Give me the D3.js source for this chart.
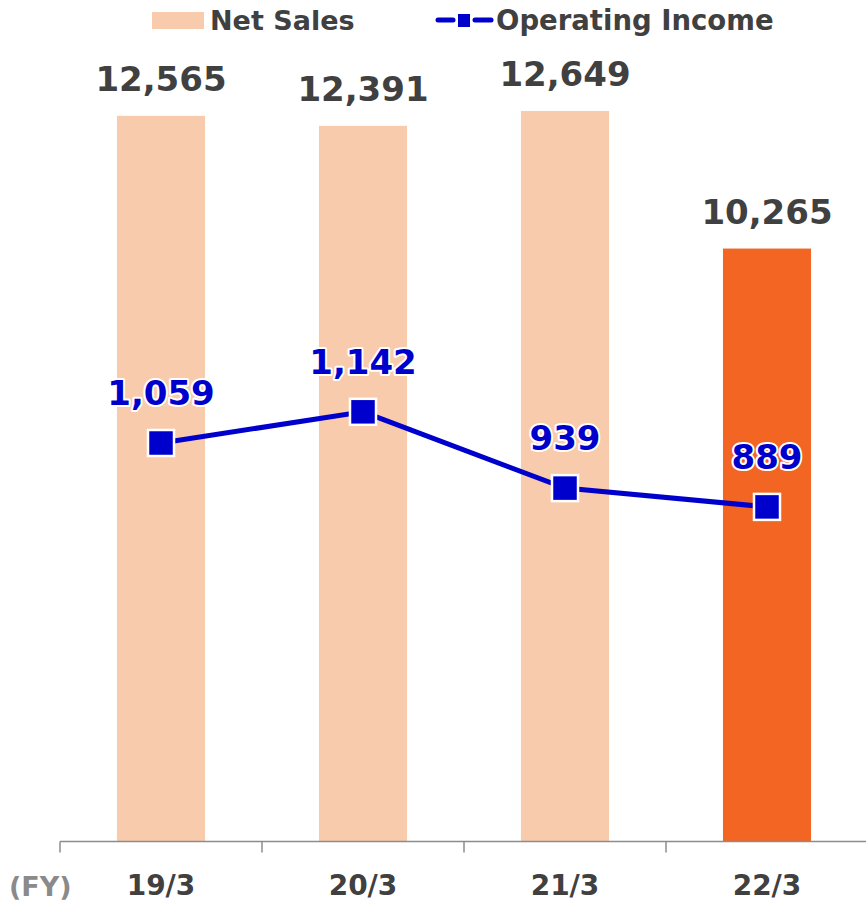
<!DOCTYPE html>
<html><head><meta charset="utf-8">
<script src="https://cdn.jsdelivr.net/npm/d3@7"></script>
<style>
html,body{margin:0;padding:0;background:#fff;}
svg{display:block;font-family:"DejaVu Sans",Verdana,sans-serif;font-weight:bold;}
</style></head>
<body>
<script>
const categories = ["19/3", "20/3", "21/3", "22/3"];
const netSales = [12565, 12391, 12649, 10265];
const operatingIncome = [1059, 1142, 939, 889];
const highlightIndex = 3;

const W = 866, H = 904;
const svg = d3.select("body").append("svg").attr("width", W).attr("height", H);

const plotLeft = 60, plotRight = 868, plotBase = 841, plotTop = 33;
const x = d3.scaleBand().domain(categories).range([plotLeft, plotRight]).paddingInner(0.564).paddingOuter(0.282);
const xo = d3.scaleBand().domain(categories).range([plotLeft, plotRight]).padding(0);
const y = d3.scaleLinear().domain([0, 14000]).range([plotBase, plotTop]);
const y2 = d3.scaleLinear().domain([0, 2150]).range([plotBase, plotTop]);
const fmt = d3.format(",");

// bars
svg.selectAll("rect.bar").data(netSales).join("rect")
  .attr("class", "bar")
  .attr("x", (d, i) => x(categories[i]))
  .attr("y", d => y(d))
  .attr("width", x.bandwidth())
  .attr("height", d => y(0) - y(d))
  .attr("fill", (d, i) => i === highlightIndex ? "#F26522" : "#F8CBAD");

// axis
const axis = svg.append("g").attr("transform", `translate(0,${plotBase + 0.5})`);
axis.append("line").attr("x1", plotLeft).attr("x2", W).attr("stroke", "#8c8c8c").attr("stroke-width", 1.5);
axis.selectAll("line.tick").data(categories).join("line")
  .attr("class", "tick")
  .attr("x1", d => xo(d)).attr("x2", d => xo(d))
  .attr("y1", 0).attr("y2", 11)
  .attr("stroke", "#8c8c8c").attr("stroke-width", 1.5);
axis.selectAll("text").data(categories).join("text")
  .attr("x", d => xo(d) + xo.bandwidth() / 2)
  .attr("y", 53)
  .attr("text-anchor", "middle")
  .attr("font-size", 28)
  .attr("fill", "#404040")
  .text(d => d);
svg.append("text").attr("x", 9).attr("y", 896).attr("font-size", 27).attr("fill", "#8a8a8a").text("(FY)");

// bar labels
svg.selectAll("text.bl").data(netSales).join("text")
  .attr("class", "bl")
  .attr("x", (d, i) => x(categories[i]) + x.bandwidth() / 2)
  .attr("y", d => y(d) - 25)
  .attr("text-anchor", "middle")
  .attr("font-size", 34)
  .attr("fill", "#404040")
  .text(d => fmt(d));

// line
const line = d3.line().x((d, i) => x(categories[i]) + x.bandwidth() / 2).y(d => y2(d));
svg.append("path").datum(operatingIncome).attr("d", line)
  .attr("fill", "none").attr("stroke", "#0000CC").attr("stroke-width", 5);
const ms = 26;
svg.selectAll("rect.mk").data(operatingIncome).join("rect")
  .attr("class", "mk")
  .attr("x", (d, i) => x(categories[i]) + x.bandwidth() / 2 - ms / 2)
  .attr("y", d => y2(d) - ms / 2)
  .attr("width", ms).attr("height", ms)
  .attr("fill", "#0000CC").attr("stroke", "#fff").attr("stroke-width", 2.5);
svg.selectAll("text.ll").data(operatingIncome).join("text")
  .attr("class", "ll")
  .attr("x", (d, i) => x(categories[i]) + x.bandwidth() / 2)
  .attr("y", d => y2(d) - 38)
  .attr("text-anchor", "middle")
  .attr("font-size", 34)
  .attr("fill", "#0000CC")
  .attr("stroke", "#fff").attr("stroke-width", 4).attr("paint-order", "stroke")
  .attr("stroke-linejoin", "round")
  .text(d => fmt(d));

// legend
const lg = svg.append("g");
lg.append("rect").attr("x", 152).attr("y", 12).attr("width", 52).attr("height", 17).attr("fill", "#F8CBAD");
lg.append("text").attr("x", 210).attr("y", 30).attr("font-size", 27).attr("fill", "#404040").text("Net Sales");
lg.append("line").attr("x1", 438).attr("x2", 453).attr("y1", 20).attr("y2", 20).attr("stroke", "#0000CC").attr("stroke-width", 5).attr("stroke-linecap", "round");
lg.append("line").attr("x1", 475).attr("x2", 491).attr("y1", 20).attr("y2", 20).attr("stroke", "#0000CC").attr("stroke-width", 5).attr("stroke-linecap", "round");
lg.append("rect").attr("x", 458).attr("y", 14).attr("width", 12).attr("height", 13).attr("fill", "#0000CC");
lg.append("text").attr("x", 496).attr("y", 30).attr("font-size", 27.5).attr("fill", "#404040").text("Operating Income");
</script>
</body></html>
